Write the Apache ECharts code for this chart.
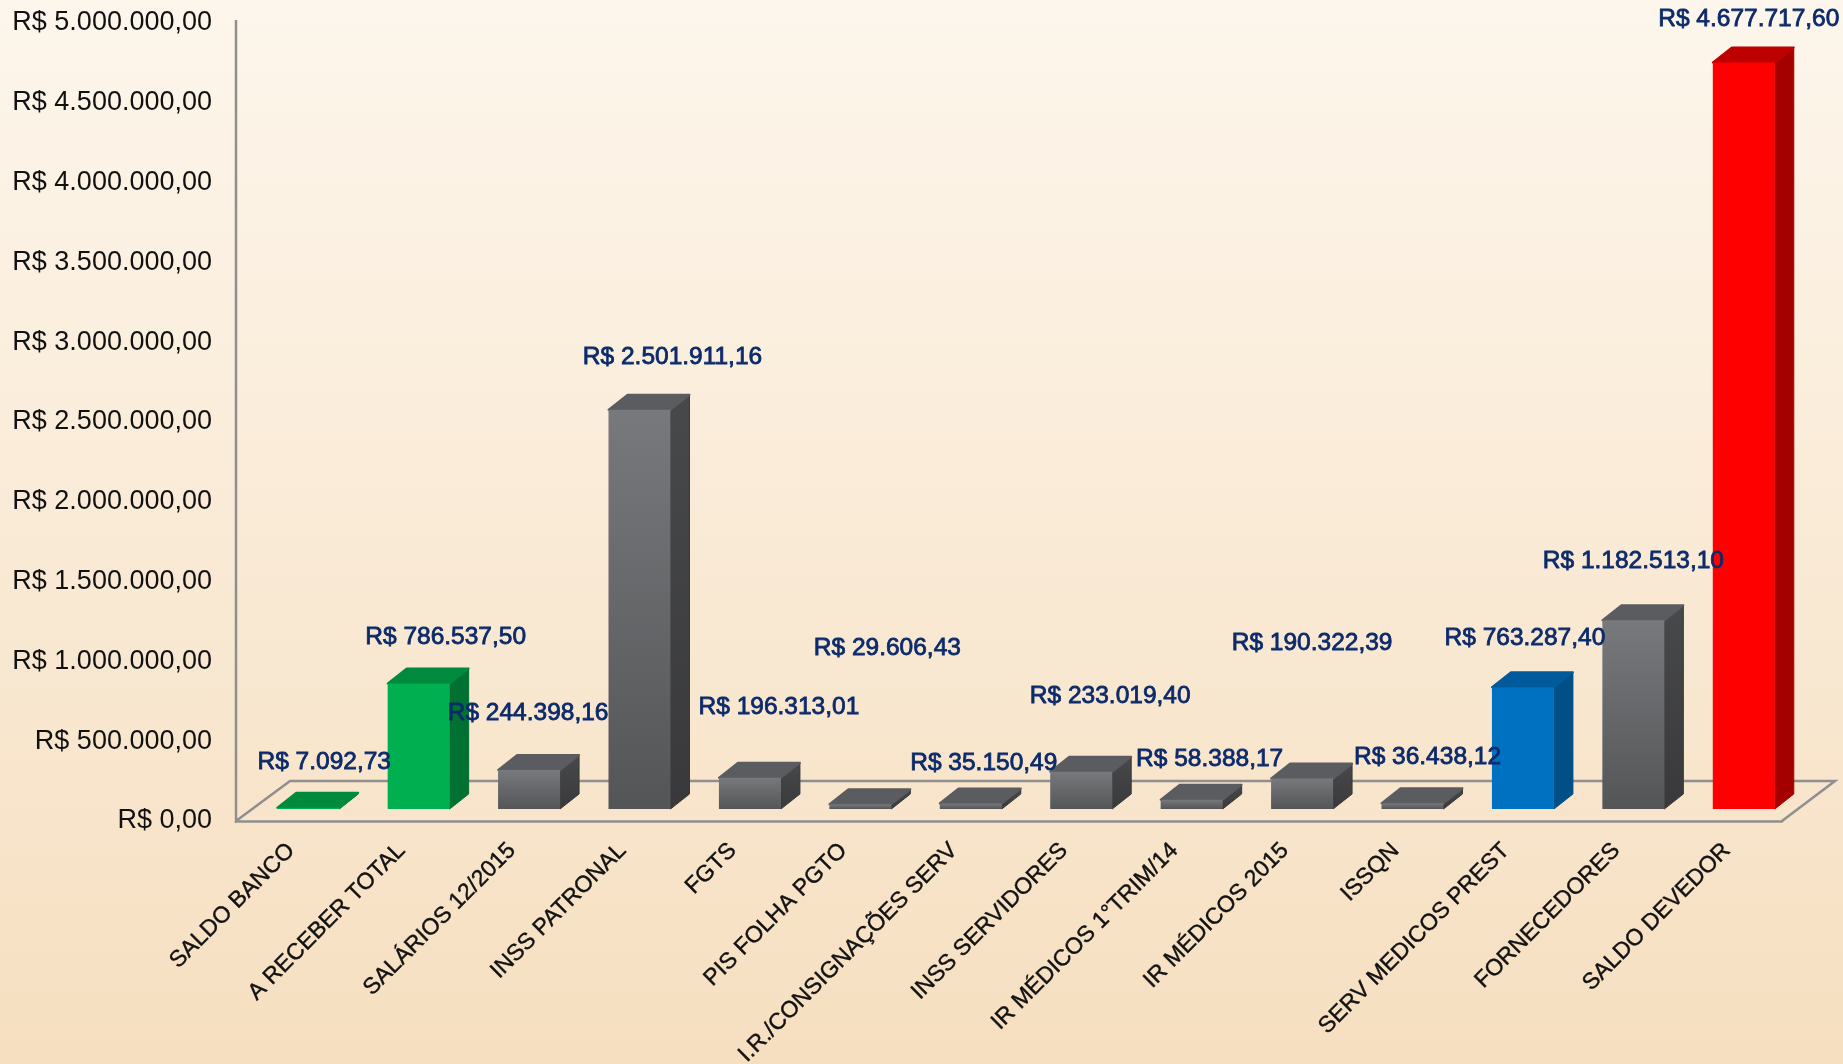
<!DOCTYPE html>
<html>
<head>
<meta charset="utf-8">
<title>Saldo</title>
<style>
    html, body { margin: 0; padding: 0; height: 100%; }
    #chart { width: 1843px; height: 1064px; }
</style>
<script src="https://cdn.jsdelivr.net/npm/echarts@6/dist/echarts.min.js"></script>
</head>
<body>
<div id="chart"></div>
<script>
const categories = [
    'SALDO BANCO', 'A RECEBER TOTAL', 'SALÁRIOS 12/2015', 'INSS PATRONAL', 'FGTS',
    'PIS FOLHA PGTO', 'I.R./CONSIGNAÇÕES SERV', 'INSS SERVIDORES', 'IR MÉDICOS 1°TRIM/14',
    'IR MÉDICOS 2015', 'ISSQN', 'SERV MEDICOS PREST', 'FORNECEDORES', 'SALDO DEVEDOR'
];
const values = [
    7092.73, 786537.50, 244398.16, 2501911.16, 196313.01, 29606.43, 35150.49,
    233019.40, 58388.17, 190322.39, 36438.12, 763287.40, 1182513.10, 4677717.60
];
const valueLabels = [
    'R$ 7.092,73', 'R$ 786.537,50', 'R$ 244.398,16', 'R$ 2.501.911,16', 'R$ 196.313,01',
    'R$ 29.606,43', 'R$ 35.150,49', 'R$ 233.019,40', 'R$ 58.388,17', 'R$ 190.322,39',
    'R$ 36.438,12', 'R$ 763.287,40', 'R$ 1.182.513,10', 'R$ 4.677.717,60'
];
const yTickLabels = [
    'R$ 0,00', 'R$ 500.000,00', 'R$ 1.000.000,00', 'R$ 1.500.000,00', 'R$ 2.000.000,00', 'R$ 2.500.000,00',
    'R$ 3.000.000,00', 'R$ 3.500.000,00', 'R$ 4.000.000,00', 'R$ 4.500.000,00', 'R$ 5.000.000,00'
];
const barGroups = ['green', 'green', 'grey', 'grey', 'grey', 'grey', 'grey', 'grey', 'grey', 'grey', 'grey', 'blue', 'grey', 'red'];

// the labels were placed by hand in the original, so each one has its own nudge from the bar top
const labelNudges = [
    [33, -58], [44, -58], [16, -69], [50, -64], [46, -82], [44, -168], [30, -52],
    [46, -88], [35, -52], [27, -147], [32, -58], [19, -61], [17, -71], [22, -55]
];

const palette = {
    green: { front: ['#00b050', '#00b050'], side: ['#007033', '#007033'], top: '#008a3e' },
    grey: { front: ['#77797c', '#545557'], side: ['#48494b', '#39393b'], top: '#5b5c5f' },
    blue: { front: ['#0070c0', '#0070c0'], side: ['#004f86', '#004f86'], top: '#005a9c' },
    red: { front: ['#ff0000', '#ff0000'], side: ['#a50000', '#a50000'], top: '#bd0000' }
};

// 3d look of the bars, in pixels
const depthX = 19, depthY = 15;
const shiftX = 17, shiftY = -12;
const barWidth = 62;

function vertical(colors) {
    return new echarts.graphic.LinearGradient(0, 0, 0, 1, [
        { offset: 0, color: colors[0] },
        { offset: 1, color: colors[1] }
    ]);
}

function renderBar(params, api) {
    const i = api.value(0);
    const top = api.coord([i, api.value(1)]);
    const base = api.coord([i, 0]);
    const l = top[0] + shiftX - barWidth / 2;
    const r = l + barWidth;
    const t = top[1] + shiftY;
    const b = base[1] + shiftY;
    const c = palette[barGroups[params.dataIndex]];
    return {
        type: 'group',
        children: [
            {
                type: 'polygon',
                shape: { points: [[r, b], [r + depthX, b - depthY], [r + depthX, t - depthY], [r, t]] },
                style: { fill: vertical(c.side), stroke: c.side[1], lineWidth: 1, lineJoin: 'round' }
            },
            {
                type: 'polygon',
                shape: { points: [[l, t], [l + depthX, t - depthY], [r + depthX, t - depthY], [r, t]] },
                style: { fill: c.top, stroke: c.top, lineWidth: 2, lineJoin: 'round' }
            },
            {
                type: 'polygon',
                shape: { points: [[l, t], [r, t], [r, b], [l, b]] },
                style: { fill: vertical(c.front) }
            }
        ]
    };
}

// floor of the 3d box, plus the left wall edge which runs a bit above the top tick
function renderFloor(params, api) {
    const band = api.size([1, 0])[0];
    const a = api.coord([0, 0]);
    const topY = api.coord([0, 5000000])[1] - 3;
    const x0 = a[0] - band / 2;
    const x1 = x0 + band * categories.length;
    const y = a[1];
    return {
        type: 'polyline',
        shape: { points: [[x0, topY], [x0, y], [x0 + 54, y - 40], [x1 + 53, y - 40], [x1, y]] },
        style: { fill: 'none', stroke: '#8f8f8f', lineWidth: 2.5 }
    };
}

function renderLabel(params, api) {
    const i = api.value(0);
    const p = api.coord([i, api.value(1)]);
    const n = labelNudges[params.dataIndex];
    return {
        type: 'text',
        style: {
            x: p[0] + n[0],
            y: p[1] + n[1],
            text: valueLabels[params.dataIndex],
            align: 'center',
            verticalAlign: 'middle',
            fill: '#0b2a6b',
            stroke: '#0b2a6b',
            lineWidth: 0.8,
            font: '24.5px "Liberation Sans"'
        }
    };
}

const chart = echarts.init(document.getElementById('chart'));
const points = values.map((v, i) => [i, v]);

chart.setOption({
    animation: false,
    backgroundColor: {
        type: 'linear', x: 0, y: 0, x2: 0, y2: 1,
        colorStops: [
            { offset: 0, color: '#fdf6ec' },
            { offset: 1, color: '#f6dfc0' }
        ]
    },
    grid: { left: 236, right: 61, top: 23, bottom: 243, outerBoundsMode: 'none' },
    xAxis: {
        type: 'category',
        data: categories,
        axisTick: { show: false },
        axisLine: { lineStyle: { color: '#8f8f8f', width: 2.5 } },
        axisLabel: {
            interval: 0,
            rotate: 45,
            margin: 26,
            color: '#111',
            textBorderColor: '#111',
            textBorderWidth: 0.4,
            fontFamily: 'Liberation Sans',
            fontSize: 23
        }
    },
    yAxis: {
        type: 'value',
        min: 0,
        max: 5000000,
        interval: 500000,
        splitLine: { show: false },
        axisTick: { show: false },
        axisLine: { show: false },
        axisLabel: {
            margin: 24,
            padding: [5, 0, 0, 0],
            color: '#111',
            fontFamily: 'Liberation Sans',
            fontSize: 27,
            formatter: (value) => yTickLabels[value / 500000]
        }
    },
    series: [
        { type: 'custom', data: [[0, 0]], renderItem: renderFloor, encode: { x: 0, y: 1 }, silent: true, z: 1 },
        { type: 'custom', data: points, renderItem: renderBar, encode: { x: 0, y: 1 }, z: 2 },
        { type: 'custom', data: points, renderItem: renderLabel, encode: { x: 0, y: 1 }, z: 3 }
    ]
});
</script>
</body>
</html>
